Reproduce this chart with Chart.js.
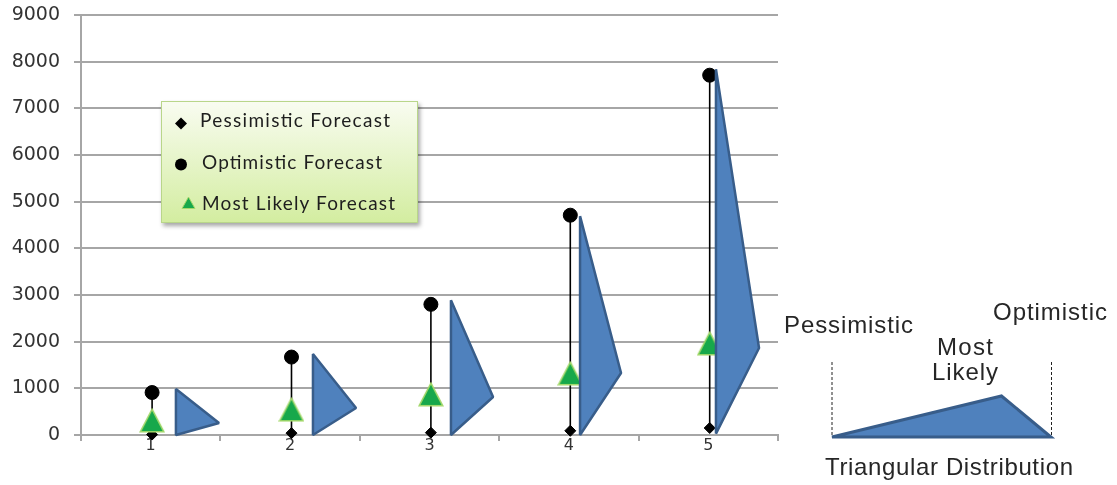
<!DOCTYPE html>
<html>
<head>
<meta charset="utf-8">
<script src="https://cdn.jsdelivr.net/npm/chart.js@4.4.1/dist/chart.umd.min.js"></script>
<style>
  html, body { margin: 0; padding: 0; background: #ffffff; }
  #wrap { position: relative; width: 1117px; height: 485px; overflow: hidden; }
  #c { position: absolute; left: 0; top: 0; }
  #ov { position: absolute; left: 0; top: 0; pointer-events: none; }
</style>
</head>
<body>
<div id="wrap">
  <canvas id="c" width="1117" height="485"></canvas>
  <svg id="ov" width="1117" height="485" xmlns="http://www.w3.org/2000/svg">
    <defs>
      <linearGradient id="lg" x1="0" y1="0" x2="0" y2="1">
        <stop offset="0" stop-color="#F9FCF1"/>
        <stop offset="1" stop-color="#D3EDA0"/>
      </linearGradient>
      <filter id="sh" x="-10%" y="-10%" width="130%" height="140%">
        <feDropShadow dx="2" dy="3" stdDeviation="2" flood-color="#000" flood-opacity="0.35"/>
      </filter>
    </defs>
    <!-- legend -->
    <rect x="161.5" y="101.5" width="256" height="121" fill="url(#lg)" stroke="#B9D68A" stroke-width="1" filter="url(#sh)"/>
    <path d="M181 117.5 L187 123.5 L181 129.5 L175 123.5 Z" fill="#000"/>
    <circle cx="181" cy="164.5" r="6" fill="#000"/>
    <path d="M188.5 197 L195 208.5 L182 208.5 Z" fill="#17A84B" stroke="#A3D86A" stroke-width="1"/>
    <g font-family="Lato, 'Open Sans', sans-serif" font-size="19" fill="#1e1e1e">
      <text x="200" y="127" textLength="190" lengthAdjust="spacing">Pessimistic Forecast</text>
      <text x="202" y="168.5" textLength="180" lengthAdjust="spacing">Optimistic Forecast</text>
      <text x="202" y="210" textLength="193" lengthAdjust="spacing">Most Likely Forecast</text>
    </g>
    <!-- triangular distribution explanation -->
    <line x1="832" y1="362" x2="832" y2="437" stroke="#222" stroke-width="1" stroke-dasharray="3 2"/>
    <line x1="1051.5" y1="362" x2="1051.5" y2="437" stroke="#222" stroke-width="1" stroke-dasharray="3 2"/>
    <path d="M832 437 L1001.5 396 L1051 437 Z" fill="#4F81BD" stroke="#385D8A" stroke-width="3" stroke-linejoin="miter"/>
    <g font-family="'Liberation Sans', Arial, sans-serif" font-size="24" fill="#262626">
      <text x="784" y="333" textLength="129" lengthAdjust="spacing">Pessimistic</text>
      <text x="993" y="320" textLength="114" lengthAdjust="spacing">Optimistic</text>
      <text x="937" y="355" textLength="56" lengthAdjust="spacing">Most</text>
      <text x="932" y="380" textLength="66" lengthAdjust="spacing">Likely</text>
      <text x="825" y="475" textLength="248" lengthAdjust="spacing">Triangular Distribution</text>
    </g>
  </svg>
</div>
<script>
// ---------------- data ----------------
const categories  = ['1', '2', '3', '4', '5'];
const pessimistic = [10, 40, 50, 90, 150];
const optimistic  = [910, 1670, 2800, 4710, 7710];
const mostLikely  = [310, 545, 870, 1320, 1960];
// blue triangular-distribution shapes drawn next to each forecast
const shapeBottom = [0, 0, 0, 0, 30];
const shapeTop    = [985, 1735, 2890, 4690, 7840];
const shapePeak   = [257, 579, 814, 1328, 1864];
const yTickValues = [0, 1000, 2000, 3000, 4000, 5000, 6000, 7000, 8000, 9000];

// ---------------- layout constants (category units) ----------------
const markerShift     = 0.01;
const shapeLeftOffset = [0.181, 0.164, 0.154, 0.080, 0.055];
const shapePeakOffset = [0.490, 0.473, 0.456, 0.374, 0.364];

// ---------------- styles ----------------
const gridColor = '#A6A6A6';
const labelColor = '#333333';
const shapeFill = '#4F81BD';
const shapeEdge = '#385D8A';

// Excel-like triangle marker, centred on its bounding box
function makeTriangleMarker() {
  const cv = document.createElement('canvas');
  cv.width = 26; cv.height = 25;
  const g = cv.getContext('2d');
  g.beginPath();
  g.moveTo(13, 1.2);
  g.lineTo(24.8, 23.8);
  g.lineTo(1.2, 23.8);
  g.closePath();
  g.fillStyle = '#17A84B';
  g.fill();
  g.lineWidth = 1.5;
  g.strokeStyle = '#A3D86A';
  g.stroke();
  return cv;
}
const mlMarker = makeTriangleMarker();

const datasets = [];

// shapes (on top)
categories.forEach((c, i) => {
  const L = i + 1 + shapeLeftOffset[i];
  const P = i + 1 + shapePeakOffset[i];
  datasets.push({
    type: 'line', xAxisID: 'x2', yAxisID: 'y',
    data: [
      {x: L, y: shapeBottom[i]},
      {x: L, y: shapeTop[i]},
      {x: P, y: shapePeak[i]},
      {x: L, y: shapeBottom[i]},
      {x: L, y: shapeTop[i]}
    ],
    fill: 'shape',
    backgroundColor: shapeFill,
    borderColor: shapeEdge,
    borderWidth: 2.5,
    borderJoinStyle: 'bevel',
    pointRadius: 0,
    tension: 0,
    clip: false,
    order: 0
  });
});

// most likely markers
datasets.push({
  type: 'line', showLine: false, xAxisID: 'x2', yAxisID: 'y',
  data: categories.map((c, i) => ({x: i + 1 + markerShift, y: mostLikely[i]})),
  pointStyle: mlMarker,
  pointRadius: 12,
  clip: false,
  order: 1
});
// optimistic
datasets.push({
  type: 'line', showLine: false, xAxisID: 'x2', yAxisID: 'y',
  data: categories.map((c, i) => ({x: i + 1 + markerShift, y: optimistic[i]})),
  pointStyle: 'circle',
  pointRadius: 7,
  pointBackgroundColor: '#000',
  pointBorderColor: '#000',
  pointBorderWidth: 1,
  clip: false,
  order: 2
});
// pessimistic
datasets.push({
  type: 'line', showLine: false, xAxisID: 'x2', yAxisID: 'y',
  data: categories.map((c, i) => ({x: i + 1 + markerShift, y: pessimistic[i]})),
  pointStyle: 'rectRot',
  pointRadius: 5.5,
  pointBackgroundColor: '#000',
  pointBorderColor: '#000',
  pointBorderWidth: 1,
  clip: false,
  order: 3
});
// range lines
const rangeData = [];
categories.forEach((c, i) => {
  rangeData.push({x: i + 1 + markerShift, y: pessimistic[i]});
  rangeData.push({x: i + 1 + markerShift, y: optimistic[i]});
  rangeData.push({x: i + 1 + markerShift, y: null});
});
datasets.push({
  type: 'line', xAxisID: 'x2', yAxisID: 'y',
  data: rangeData,
  borderColor: '#000',
  borderWidth: 1.6,
  pointRadius: 0,
  spanGaps: false,
  fill: false,
  clip: false,
  order: 4
});

new Chart(document.getElementById('c'), {
  type: 'line',
  data: { labels: categories, datasets },
  options: {
    responsive: false,
    animation: false,
    devicePixelRatio: 1,
    events: [],
    layout: { padding: { left: 0, right: 339, top: 15, bottom: 0 } },
    plugins: { legend: { display: false }, tooltip: { enabled: false } },
    scales: {
      x: {
        type: 'category',
        position: 'bottom',
        offset: true,
        grid: { display: true, drawOnChartArea: false, drawTicks: true, tickLength: 6, offset: true, color: gridColor, lineWidth: 2 },
        border: { display: true, color: gridColor, width: 2 },
        ticks: { font: { family: 'DejaVu Sans', size: 16 }, color: labelColor, padding: -5, maxRotation: 0 },
        afterFit(s) { s.height = 50; }
      },
      x2: {
        type: 'linear',
        axis: 'x',
        position: 'bottom',
        display: false,
        min: 0.5,
        max: 5.5
      },
      y: {
        type: 'linear',
        position: 'left',
        min: 0,
        max: 9000,
        afterBuildTicks(s) { s.ticks = yTickValues.map(v => ({ value: v })); },
        grid: { color: gridColor, lineWidth: 2, tickLength: 7, drawTicks: true },
        border: { display: true, color: gridColor, width: 2 },
        ticks: { font: { family: 'DejaVu Sans', size: 19 }, color: labelColor, padding: 14,
                 callback: v => String(v) },
        afterFit(s) { s.width = 81; s.paddingTop = 0; s.paddingBottom = 0; }
      }
    }
  }
});
</script>
</body>
</html>
